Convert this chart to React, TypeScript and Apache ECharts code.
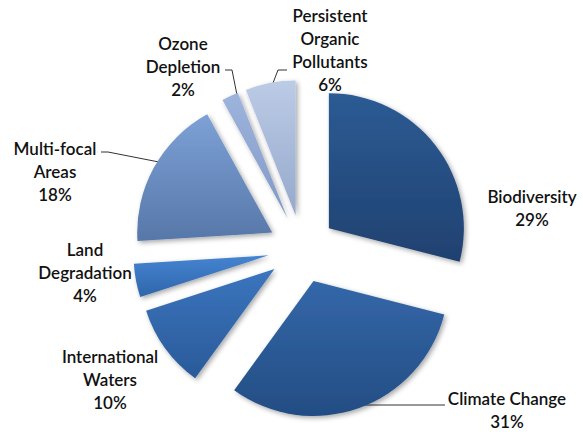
import React, { useEffect, useRef } from "react";
import * as echarts from "echarts";

const categories = [
  "Biodiversity",
  "Climate Change",
  "International Waters",
  "Land Degradation",
  "Multi-focal Areas",
  "Ozone Depletion",
  "Persistent Organic Pollutants",
];
const wrappedNames = [
  "Biodiversity",
  "Climate Change",
  "International\nWaters",
  "Land\nDegradation",
  "Multi-focal\nAreas",
  "Ozone\nDepletion",
  "Persistent\nOrganic\nPollutants",
];
const values = [29, 31, 10, 4, 18, 2, 6];

const topColors = ["#2d5b94", "#3467a9", "#3b75be", "#4584d2", "#7da1d6", "#9db5dd", "#bccbe6"];
const bottomColors = ["#1f4170", "#234d83", "#2a5a99", "#2f66aa", "#5777a9", "#8098c5", "#95a9cc"];

// label block centres (layout, not data)
const labelPos: number[][] = [
  [532, 208],
  [507, 410],
  [110, 379],
  [85, 272],
  [55, 171],
  [183, 66],
  [330, 50],
];
const leaderPts: Record<number, number[][]> = {
  1: [[357, 405], [400, 405], [445, 405]],
  4: [[159, 162], [108, 152], [101, 152]],
  5: [[237, 95], [232, 70], [225, 70]],
  6: [[273, 83], [278, 70], [287, 70]],
};

export default function App() {
  const ref = useRef<HTMLDivElement>(null);
  useEffect(() => {
    if (!ref.current) return;
    const chart = echarts.init(ref.current, undefined, { renderer: "svg" });
    const grad = (i: number) =>
      new echarts.graphic.LinearGradient(0, 0, 0, 1, [
        { offset: 0, color: topColors[i] },
        { offset: 1, color: bottomColors[i] },
      ]);
    const data = categories.map((name, i) => ({
      name,
      value: values[i],
      selected: true,
      itemStyle: { color: grad(i) },
      select: { itemStyle: { color: grad(i) } },
    }));
    const texts = categories.map((_, i) => ({
      type: "text",
      silent: true,
      style: {
        text: `${wrappedNames[i]}\n${values[i]}%`,
        x: labelPos[i][0],
        y: labelPos[i][1],
        textAlign: "center",
        textVerticalAlign: "middle",
        fontFamily: "Lato",
        fontWeight: 600,
        fontSize: 17,
        lineHeight: 23,
        fill: "#111",
      },
    }));
    const lines = Object.keys(leaderPts).map((k) => ({
      type: "polyline",
      silent: true,
      shape: { points: leaderPts[Number(k)] },
      style: { stroke: "#333", lineWidth: 1, fill: null },
    }));
    chart.setOption({
      animation: false,
      backgroundColor: "#ffffff",
      graphic: [...lines, ...texts],
      series: [
        {
          type: "pie",
          center: [302, 249],
          radius: 135,
          startAngle: 90,
          clockwise: true,
          selectedMode: "multiple",
          selectedOffset: 34,
          avoidLabelOverlap: false,
          itemStyle: {
            shadowBlur: 5,
            shadowOffsetX: 2,
            shadowOffsetY: 2,
            shadowColor: "rgba(0,0,0,0.35)",
          },
          emphasis: { disabled: true },
          label: { show: false },
          labelLine: { show: false },
          data,
        },
      ],
    });
    return () => chart.dispose();
  }, []);
  return (
    <div
      ref={ref}
      style={{ position: "fixed", left: 0, top: 0, width: 583, height: 434 }}
    />
  );
}
